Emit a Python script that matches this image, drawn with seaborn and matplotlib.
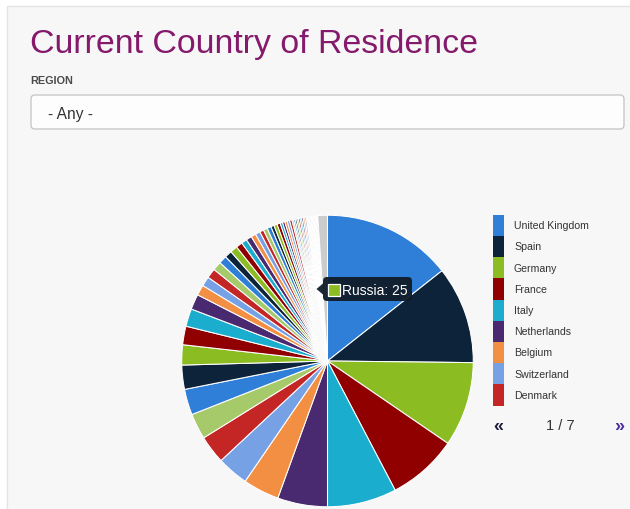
import matplotlib
matplotlib.use("Agg")
import matplotlib.pyplot as plt
import seaborn as sns
from matplotlib.patches import Rectangle, FancyBboxPatch, Polygon

sns.set_theme(style="white")
plt.rcParams["font.family"] = ["Liberation Sans", "DejaVu Sans"]

# Data (counts, first page of the legend is what shows)
countries = [
    "United Kingdom", "Spain", "Germany", "France", "Italy", "Netherlands",
    "Belgium", "Switzerland", "Denmark", "Ireland", "Sweden", "Portugal",
    "Russia", "Norway", "Austria", "Finland", "Poland", "Greece",
    "United States", "Czech Republic", "Hungary", "Romania", "Turkey",
    "Israel", "Canada", "Australia", "Luxembourg", "Ukraine", "Slovenia",
    "Croatia", "Bulgaria", "Serbia", "Estonia", "Lithuania", "Latvia",
    "Slovakia", "Iceland", "Cyprus", "Malta",
    "Japan", "China", "India", "Brazil", "Argentina", "Mexico",
    "South Africa", "Singapore", "Egypt",
    "Georgia", "Armenia", "Belarus", "Moldova", "Albania",
    "Bosnia and Herzegovina", "North Macedonia", "Montenegro", "Monaco",
    "Chile", "Colombia", "South Korea", "New Zealand", "Qatar",
    "Other",
]
counts = [
    161, 121, 105, 87, 86, 62, 45, 39, 35, 32, 32, 30,
    25, 23, 22, 19, 13, 12, 12,
    11, 10, 9, 9, 8, 7, 7, 6, 6, 5, 5, 5, 4, 4, 4, 3, 3, 3, 3, 3,
    2, 2, 2, 2, 2, 2, 2, 2, 2,
    1, 1, 1, 1, 1, 1, 1, 1, 1, 1, 1, 1, 1, 1,
    12,
]
hover_country = "Russia"
per_page = 9

# Highcharts-like palette, repeated; "Other" in grey
hc = ["#2f7ed8", "#0d233a", "#8bbc21", "#910000", "#1aadce",
      "#492970", "#f28f43", "#77a1e5", "#c42525", "#a6c96a"]
pal = sns.color_palette(hc)
colors = [pal[i % len(pal)] for i in range(len(counts) - 1)] + ["#cccccc"]

W, H = 630, 510
fig = plt.figure(figsize=(W / 100, H / 100), dpi=100)
fig.patch.set_facecolor("white")


def frac(x0, y0, x1, y1):
    # pixel box (top-left origin) -> figure fraction rect
    return [x0 / W, 1 - y1 / H, (x1 - x0) / W, (y1 - y0) / H]


# Background panel, title, filter box
bg = fig.add_axes([0, 0, 1, 1], zorder=0)
bg.set_xlim(0, W)
bg.set_ylim(H, 0)
bg.axis("off")
bg.add_patch(Rectangle((7, 7), W, H, facecolor="#f7f7f7",
                       edgecolor="#e4e4e4", linewidth=1))
bg.text(30, 53, "Current Country of Residence", color="#85196b",
        fontsize=24.4, va="baseline", ha="left")
bg.text(30.5, 84, "REGION", color="#4a4a4a", fontsize=7.8,
        fontweight="bold", va="baseline", ha="left")
bg.add_patch(FancyBboxPatch((31, 96), 593, 34,
                            boxstyle="round,pad=0,rounding_size=4",
                            facecolor="#fdfdfd", edgecolor="#c8c8c8",
                            linewidth=1))
bg.text(48, 118.5, "- Any -", color="#333333", fontsize=11.2,
        va="baseline", ha="left")

# Pie
ax = fig.add_axes(frac(181, 215.5, 474, 508.5), zorder=1)
ax.patch.set_alpha(0)
ax.pie(counts, colors=colors, startangle=90, counterclock=False,
       wedgeprops=dict(edgecolor="white", linewidth=0.75))
ax.set_xlim(-1.005, 1.005)
ax.set_ylim(-1.005, 1.005)
ax.set_aspect("equal")
ax.axis("off")

# Legend, first page
lax = fig.add_axes(frac(492, 214, 630, 440), zorder=2)
lax.patch.set_alpha(0)
lax.set_xlim(0, 138)
lax.set_ylim(226, 0)
lax.axis("off")
row_h = 21.2
for i, (name, c) in enumerate(zip(countries[:per_page], colors[:per_page])):
    y = 1.7 + row_h * i
    lax.add_patch(Rectangle((1, y), 10.5, row_h, facecolor=c, edgecolor="none"))
    lax.text(22, y + row_h / 2, name, fontsize=7.6, color="#333333",
             va="center", ha="left")
n_pages = -(-len(counts) // per_page)
lax.text(1, 212, "\u00ab", fontsize=13, color="#1f1f3d", fontweight="bold",
         va="center", ha="left")
lax.text(68, 211.5, f"1 / {n_pages}", fontsize=10.5, color="#333333",
         va="center", ha="center")
lax.text(132.5, 212, "\u00bb", fontsize=13, color="#4b2ca0", fontweight="bold",
         va="center", ha="right")

# Tooltip for the hovered slice
k = countries.index(hover_country)
ov = fig.add_axes([0, 0, 1, 1], zorder=3)
ov.patch.set_alpha(0)
ov.set_xlim(0, W)
ov.set_ylim(H, 0)
ov.axis("off")
ov.add_patch(FancyBboxPatch((323, 278), 89, 24,
                            boxstyle="round,pad=0,rounding_size=4",
                            facecolor="#111c29", edgecolor="none", alpha=0.95))
ov.add_patch(Polygon([(316.5, 290), (323.5, 284), (323.5, 296)], closed=True,
                     facecolor="#111c29", edgecolor="none", alpha=0.95))
ov.add_patch(Rectangle((328, 285), 12, 12, facecolor=colors[k],
                       edgecolor="white", linewidth=0.9))
ov.text(342, 291, f"{countries[k]}: {counts[k]}", color="white",
        fontsize=10, va="center", ha="left")

fig.savefig("out.png", dpi=100)
